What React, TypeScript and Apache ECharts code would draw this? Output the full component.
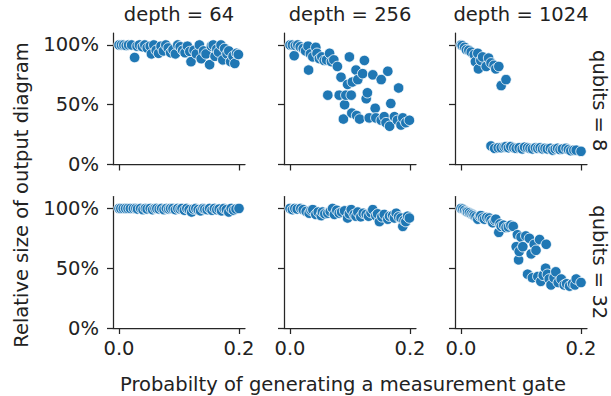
import React, { useEffect, useRef } from "react";
import * as echarts from "echarts";

const depthTitles = ["depth = 64", "depth = 256", "depth = 1024"];
const qubitLabels = ["qubits = 8", "qubits = 32"];
const xTicks = [0, 0.2];
const yTicks = [0, 0.5, 1];
const xTitle = "Probabilty of generating a measurement gate";
const yTitle = "Relative size of output diagram";

// qubits = 8
const q8d64: [number, number][] = [
  [0.000, 1.0], [0.004, 1.0], [0.008, 1.0], [0.012, 0.995], [0.016, 1.0], [0.021, 1.0], [0.026, 0.895],
  [0.030, 0.99], [0.034, 1.0], [0.039, 0.985], [0.043, 1.0], [0.047, 0.975], [0.052, 0.99], [0.054, 0.925],
  [0.058, 1.0], [0.062, 0.955], [0.066, 0.93], [0.070, 0.99], [0.074, 0.95], [0.078, 1.0], [0.082, 0.975],
  [0.086, 0.935], [0.090, 0.96], [0.094, 0.925], [0.098, 1.0], [0.102, 0.985], [0.106, 0.955], [0.110, 0.935],
  [0.114, 0.99], [0.118, 0.945], [0.120, 0.86], [0.125, 0.955], [0.129, 0.925], [0.134, 1.0], [0.137, 0.885],
  [0.141, 0.95], [0.145, 0.925], [0.151, 0.835], [0.154, 0.99], [0.157, 1.0], [0.160, 0.905], [0.163, 0.965],
  [0.166, 0.94], [0.170, 1.0], [0.173, 0.875], [0.176, 0.97], [0.180, 0.925], [0.183, 0.95], [0.186, 0.86],
  [0.190, 0.905], [0.193, 0.845], [0.196, 0.93], [0.199, 0.92],
];
const q8d256: [number, number][] = [
  [0.000, 1.0], [0.004, 1.0], [0.007, 0.91], [0.009, 0.995], [0.013, 1.0], [0.017, 0.985], [0.022, 0.97],
  [0.026, 0.95], [0.030, 0.99], [0.031, 0.79], [0.034, 0.925], [0.038, 0.9], [0.043, 0.98], [0.045, 0.93],
  [0.049, 0.885], [0.053, 0.9], [0.057, 0.87], [0.061, 0.875], [0.066, 0.93], [0.069, 0.86], [0.073, 0.875],
  [0.079, 0.82], [0.063, 0.58], [0.082, 0.58], [0.085, 0.73], [0.089, 0.38], [0.091, 0.5], [0.093, 0.58],
  [0.096, 0.67], [0.099, 0.9], [0.102, 0.58], [0.103, 0.43], [0.104, 0.69], [0.110, 0.79], [0.111, 0.41],
  [0.113, 0.71], [0.116, 0.38], [0.121, 0.76], [0.124, 0.87], [0.127, 0.55], [0.129, 0.6], [0.132, 0.39],
  [0.138, 0.75], [0.142, 0.47], [0.143, 0.39], [0.152, 0.71], [0.152, 0.37], [0.157, 0.4], [0.160, 0.35],
  [0.163, 0.78], [0.166, 0.32], [0.168, 0.51], [0.174, 0.4], [0.179, 0.37], [0.181, 0.64], [0.185, 0.33],
  [0.188, 0.39], [0.193, 0.35], [0.199, 0.37],
];
const q8d1024: [number, number][] = [
  [0.000, 1.0], [0.002, 0.995], [0.006, 0.98], [0.009, 0.96], [0.013, 0.955], [0.017, 0.94], [0.022, 0.92],
  [0.024, 0.86], [0.028, 0.93], [0.029, 0.8], [0.033, 0.87], [0.036, 0.9], [0.042, 0.82], [0.046, 0.89],
  [0.050, 0.85], [0.055, 0.83], [0.058, 0.8], [0.063, 0.82], [0.067, 0.66], [0.075, 0.71],
  [0.050, 0.155], [0.056, 0.135], [0.062, 0.14], [0.067, 0.14], [0.072, 0.145], [0.075, 0.15], [0.079, 0.14],
  [0.083, 0.15], [0.088, 0.14], [0.092, 0.135], [0.097, 0.14], [0.102, 0.13], [0.106, 0.145], [0.111, 0.14],
  [0.115, 0.135], [0.119, 0.13], [0.124, 0.14], [0.128, 0.135], [0.132, 0.14], [0.136, 0.13], [0.140, 0.135],
  [0.144, 0.13], [0.149, 0.135], [0.153, 0.12], [0.157, 0.13], [0.161, 0.135], [0.165, 0.125], [0.169, 0.13],
  [0.175, 0.135], [0.179, 0.125], [0.183, 0.115], [0.188, 0.12], [0.192, 0.12], [0.200, 0.11],
];

// qubits = 32
const q32d64: [number, number][] = [
  [0.000, 1.0], [0.003, 1.0], [0.007, 1.0], [0.011, 1.0], [0.015, 1.0], [0.019, 1.0], [0.024, 1.0],
  [0.028, 1.0], [0.031, 0.995], [0.036, 1.0], [0.040, 0.99], [0.044, 1.0], [0.047, 0.995], [0.052, 1.0],
  [0.056, 0.99], [0.060, 1.0], [0.063, 1.0], [0.067, 0.995], [0.071, 1.0], [0.075, 0.99], [0.079, 1.0],
  [0.083, 0.995], [0.086, 1.0], [0.090, 1.0], [0.094, 0.99], [0.098, 1.0], [0.102, 0.995], [0.105, 1.0],
  [0.109, 0.985], [0.113, 1.0], [0.117, 0.99], [0.121, 0.97], [0.124, 0.995], [0.128, 1.0], [0.132, 0.99],
  [0.136, 0.98], [0.140, 1.0], [0.143, 0.995], [0.147, 0.99], [0.151, 1.0], [0.155, 0.985], [0.159, 1.0],
  [0.163, 0.99], [0.167, 0.995], [0.171, 0.98], [0.175, 1.0], [0.179, 0.99], [0.183, 0.97], [0.187, 1.0],
  [0.191, 0.985], [0.195, 0.995], [0.200, 1.0],
];
const q32d256: [number, number][] = [
  [0.000, 1.0], [0.004, 0.99], [0.008, 1.0], [0.012, 0.995], [0.018, 1.0], [0.022, 0.99], [0.027, 0.975],
  [0.032, 0.96], [0.035, 0.985], [0.038, 0.99], [0.043, 0.95], [0.047, 0.97], [0.052, 0.94], [0.054, 0.97],
  [0.058, 0.955], [0.063, 0.96], [0.067, 0.975], [0.071, 1.0], [0.074, 0.95], [0.078, 0.985], [0.082, 0.96],
  [0.086, 0.97], [0.091, 0.98], [0.096, 0.92], [0.099, 0.955], [0.102, 0.99], [0.107, 0.95], [0.110, 0.935],
  [0.113, 0.97], [0.118, 0.93], [0.122, 0.96], [0.127, 0.95], [0.131, 0.935], [0.135, 0.965], [0.138, 0.99],
  [0.143, 0.94], [0.146, 0.955], [0.149, 0.89], [0.153, 0.93], [0.157, 0.95], [0.163, 0.91], [0.166, 0.935],
  [0.171, 0.94], [0.174, 0.92], [0.177, 0.96], [0.181, 0.93], [0.185, 0.92], [0.188, 0.85], [0.190, 0.9],
  [0.193, 0.89], [0.196, 0.935], [0.199, 0.92],
];
const q32d1024: [number, number][] = [
  [0.000, 1.0], [0.003, 0.995], [0.006, 0.985], [0.009, 0.975], [0.011, 0.97], [0.014, 0.965], [0.017, 0.955],
  [0.020, 0.95], [0.022, 0.94], [0.025, 0.93], [0.028, 0.91], [0.031, 0.935], [0.033, 0.94], [0.036, 0.92],
  [0.039, 0.91], [0.043, 0.925], [0.047, 0.92], [0.050, 0.9], [0.053, 0.88], [0.056, 0.9], [0.058, 0.91],
  [0.063, 0.8], [0.065, 0.87], [0.067, 0.85], [0.071, 0.86], [0.075, 0.84], [0.079, 0.845], [0.083, 0.86],
  [0.087, 0.85], [0.092, 0.68], [0.094, 0.78], [0.096, 0.57], [0.097, 0.64], [0.100, 0.76], [0.103, 0.68],
  [0.108, 0.77], [0.111, 0.45], [0.114, 0.75], [0.117, 0.62], [0.119, 0.42], [0.122, 0.7], [0.125, 0.65],
  [0.128, 0.43], [0.131, 0.74], [0.133, 0.39], [0.137, 0.44], [0.141, 0.5], [0.142, 0.7], [0.144, 0.45],
  [0.147, 0.41], [0.150, 0.36], [0.155, 0.42], [0.158, 0.47], [0.162, 0.38], [0.167, 0.41], [0.172, 0.36],
  [0.176, 0.37], [0.181, 0.35], [0.186, 0.37], [0.190, 0.36], [0.192, 0.41], [0.200, 0.38],
];

const panels = [
  [q8d64, q8d256, q8d1024],
  [q32d64, q32d256, q32d1024],
];

const W = 611;
const H = 396;
const colLeft = [113, 284, 455];
const plotW = 132;
const rowTop = [33, 196.5];
const plotH = 131.5;
const FONT = "DejaVu Sans";
const FS = 19.5;
const TXT = "#222222";
const AX = "#262626";
const BLUE = "#1f77b4";

export default function App() {
  const ref = useRef<HTMLDivElement>(null);
  useEffect(() => {
    if (!ref.current) return;
    const chart = echarts.init(ref.current, undefined, { renderer: "svg" });
    const grids: any[] = [];
    const xAxes: any[] = [];
    const yAxes: any[] = [];
    const series: any[] = [];
    let gi = 0;
    for (let r = 0; r < 2; r++) {
      for (let c = 0; c < 3; c++) {
        grids.push({ left: colLeft[c], top: rowTop[r], width: plotW, height: plotH, containLabel: false });
        xAxes.push({
          gridIndex: gi,
          type: "value",
          min: -0.01,
          max: 0.21,
          axisLine: { show: true, onZero: false, lineStyle: { color: AX, width: 1.25 } },
          axisTick: { show: true, length: 6, customValues: xTicks, lineStyle: { color: AX, width: 1.25 } },
          axisLabel: {
            show: r === 1,
            customValues: xTicks,
            formatter: (v: number) => v.toFixed(1),
            fontSize: FS,
            fontFamily: FONT,
            color: TXT,
            margin: 10,
          },
          splitLine: { show: false },
        });
        yAxes.push({
          gridIndex: gi,
          type: "value",
          min: 0,
          max: 1.1,
          axisLine: { show: true, onZero: false, lineStyle: { color: AX, width: 1.25 } },
          axisTick: { show: true, length: 6, customValues: yTicks, lineStyle: { color: AX, width: 1.25 } },
          axisLabel: {
            show: c === 0,
            customValues: yTicks,
            formatter: (v: number) => Math.round(v * 100) + "%",
            fontSize: FS,
            fontFamily: FONT,
            color: TXT,
            margin: 14,
          },
          splitLine: { show: false },
        });
        series.push({
          type: "scatter",
          xAxisIndex: gi,
          yAxisIndex: gi,
          data: panels[r][c],
          symbol: "circle",
          symbolSize: 10.5,
          itemStyle: { color: BLUE, borderColor: "#ffffff", borderWidth: 0.8, opacity: 1 },
        });
        gi++;
      }
    }
    const graphics: any[] = [];
    depthTitles.forEach((t, c) => {
      graphics.push({
        type: "text",
        x: colLeft[c] + plotW / 2,
        y: 14,
        style: { text: t, fontSize: FS, fontFamily: FONT, fill: TXT, align: "center", verticalAlign: "middle" },
      });
    });
    qubitLabels.forEach((t, r) => {
      graphics.push({
        type: "text",
        x: 599,
        y: rowTop[r] + plotH / 2 + (r === 0 ? 2 : 0),
        rotation: -Math.PI / 2,
        style: { text: t, fontSize: FS, fontFamily: FONT, fill: TXT, align: "center", verticalAlign: "middle" },
      });
    });
    graphics.push({
      type: "text",
      x: 21,
      y: 195,
      rotation: Math.PI / 2,
      style: { text: yTitle, fontSize: FS, fontFamily: FONT, fill: TXT, align: "center", verticalAlign: "middle" },
    });
    graphics.push({
      type: "text",
      x: 343,
      y: 384,
      style: { text: xTitle, fontSize: FS, fontFamily: FONT, fill: TXT, align: "center", verticalAlign: "middle" },
    });
    chart.setOption({
      animation: false,
      backgroundColor: "#ffffff",
      grid: grids,
      xAxis: xAxes,
      yAxis: yAxes,
      series,
      graphic: graphics,
    });
    return () => chart.dispose();
  }, []);
  return <div ref={ref} style={{ position: "fixed", left: 0, top: 0, width: W, height: H }} />;
}
